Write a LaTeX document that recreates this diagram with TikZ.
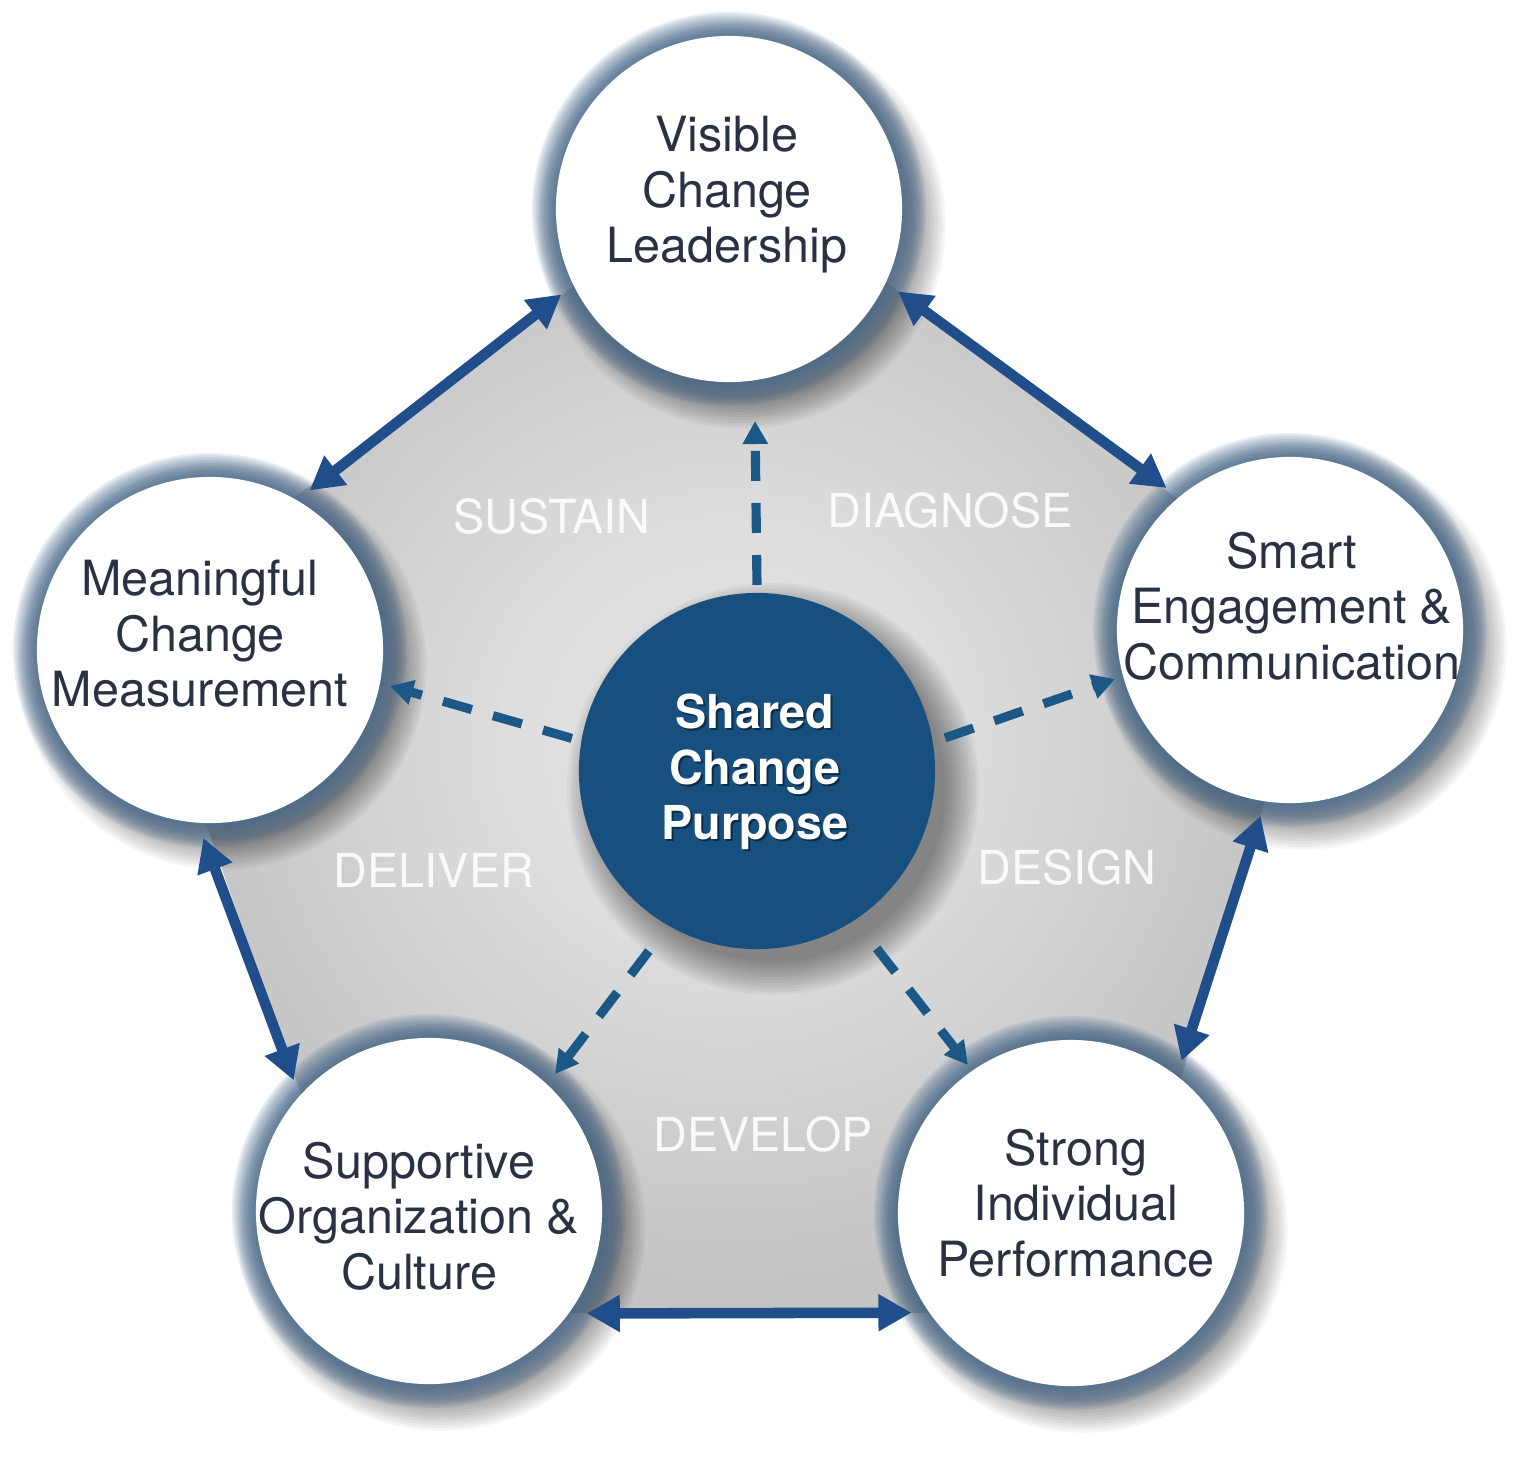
\documentclass[tikz,border=0pt]{standalone}
\usepackage{fontspec}
\setmainfont{TeX Gyre Heros}
\usetikzlibrary{calc,arrows.meta,positioning}
\definecolor{ink}{RGB}{42,49,66}
\definecolor{core}{RGB}{23,80,126}
\definecolor{edge}{RGB}{31,78,138}
\definecolor{spoke}{RGB}{27,88,134}
\definecolor{halo}{RGB}{74,108,142}
\definecolor{phasewhite}{RGB}{250,250,250}
\pgfdeclareradialshading{pentfill}{\pgfpoint{0bp}{0bp}}{color(0bp)=(white!89!black); color(9bp)=(white!87!black); color(22bp)=(white!78!black); color(32bp)=(white!74!black); color(50bp)=(white!74!black)}
\newcommand{\drawhalo}[1]{
    \foreach \i in {1,...,12}{
    \fill[black, opacity=.04] ($(#1)+(13,-16)$) circle[radius=170+2.8*\i];
    }
    \foreach \i in {1,...,12}{
      \fill[halo, opacity=.12] (#1) circle[radius=173+2*\i];
    }
}

\begin{document}
\begin{tikzpicture}[x=0.01cm, y=0.01cm,
    circ/.style={circle, fill=white, minimum size=3.46cm, inner sep=0pt, outer sep=0.15cm},
    hub/.style={circle, fill=core, minimum size=3.56cm, inner sep=0pt},
    txt/.style={align=center, text=ink, inner sep=0pt, font=\fontsize{13.8}{15.8}\selectfont},
    hubtxt/.style={align=center, text=white, inner sep=0pt, font=\bfseries\fontsize{13.3}{15.8}\selectfont},
    phase/.style={text=phasewhite, inner sep=0pt, font=\fontsize{13.3}{15}\selectfont},
    twoway/.style={draw=edge, line width=3pt, {Triangle[width=0.35cm,length=0.33cm]}-{Triangle[width=0.35cm,length=0.33cm]}},
    spokeline/.style={draw=spoke, line width=2.6pt, dash pattern=on 0.3cm off 0.22cm, -{Triangle[width=0.24cm,length=0.23cm]}}]
\useasboundingbox (0,0) rectangle (1536,-1457);
% pentagon
\coordinate (p1) at (731,-167);
\coordinate (p2) at (1323,-607);
\coordinate (p3) at (1110,-1313);
\coordinate (p4) at (378,-1313);
\coordinate (p5) at (134,-619);
\shade[shading=pentfill] (p1)--(p2)--(p3)--(p4)--(p5)--cycle;
% circle centres
\coordinate (c0) at (757,-771);
\coordinate (c1) at (729,-209);
\coordinate (c2) at (1290,-630);
\coordinate (c3) at (1071,-1213);
\coordinate (c4) at (429,-1211);
\coordinate (c5) at (210,-650);
\drawhalo{c1}\drawhalo{c2}\drawhalo{c3}\drawhalo{c4}\drawhalo{c5}
\foreach \i in {1,...,12}{
  \fill[black, opacity=.04] ($(c0)+(16,-18)$) circle[radius=170+3*\i];
}
\node[circ] (vcl) at (c1) {};
\node[circ] (sec) at (c2) {};
\node[circ] (sip) at (c3) {};
\node[circ] (soc) at (c4) {};
\node[circ] (mcm) at (c5) {};
\node[hub] (cen) at (c0) {};
% texts
\node[txt] (vcl-t) at (727,-195) {Visible\\Change\\Leadership};
\node[txt] (sec-t) at (1292,-606) {Smart\\Engagement \&\\Communication};
\node[txt] (sip-t) at (1076,-1203) {Strong\\Individual\\Performance};
\node[txt] (soc-t) at (419,-1216) {Supportive\\Organization \&\\Culture};
\node[txt] (mcm-t) at (200,-634) {Meaningful\\Change\\Measurement};
\node[hubtxt, text=black, opacity=.45] (cen-s) at (757,-774) {Shared\\Change\\Purpose};
\node[hubtxt] (cen-t) at (755,-772) {Shared\\Change\\Purpose};
\node[phase] (sustain) at (552,-516) {SUSTAIN};
\node[phase] (diagnose) at (950,-510) {DIAGNOSE};
\node[phase] (design) at (1067,-867) {DESIGN};
\node[phase] (develop) at (763,-1134) {DEVELOP};
\node[phase] (deliver) at (434,-870) {DELIVER};
% two-way arrows
\draw[twoway] (vcl.207) -- (mcm.58);
\draw[twoway] (vcl.334) -- (sec.131);
\draw[twoway] (sec.261) -- (sip.54);
\draw[twoway] (sip.212) -- (soc.327);
\draw[twoway] (soc.136) -- (mcm.268);
% spokes
\coordinate (tip-vcl) at (755,-421);
\coordinate (tip-sec) at (1115,-679);
\coordinate (tip-mcm) at (390,-686);
\coordinate (tip-soc) at (555,-1074);
\coordinate (tip-sip) at (968,-1065);
\foreach \a/\r/\t in {90/186/vcl, 10/191/sec, 170/188/mcm, 239/210/soc, 304/214/sip}{
  \draw[spokeline] ($(cen)+(\a:\r)$) -- (tip-\t);
}
\end{tikzpicture}
\end{document}
